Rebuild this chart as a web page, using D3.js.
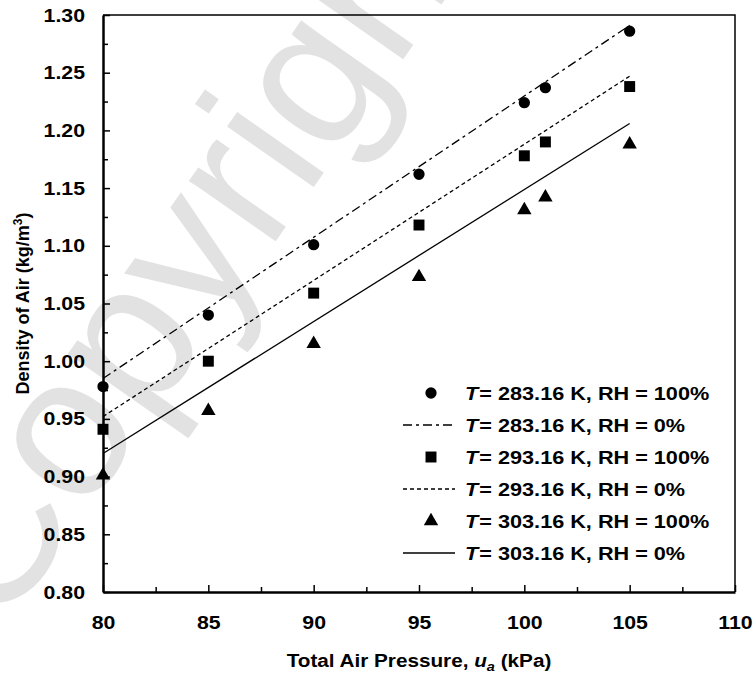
<!DOCTYPE html>
<html>
<head>
<meta charset="utf-8">
<script src="https://cdn.jsdelivr.net/npm/d3@7"></script>
<style>
  body { margin: 0; background: #fff; }
  svg { display: block; font-family: "Liberation Sans", Arial, Helvetica, sans-serif; }
</style>
</head>
<body>
<svg width="755" height="674"></svg>
<script>
// measured data (kPa -> kg/m3)
const pressures = [80, 85, 90, 95, 100, 101, 105];
const rho283wet = [0.978, 1.040, 1.101, 1.162, 1.224, 1.237, 1.286];
const rho293wet = [0.941, 1.000, 1.059, 1.118, 1.178, 1.190, 1.238];
const rho303wet = [0.901, 0.957, 1.015, 1.073, 1.131, 1.142, 1.188];

// dry air lines, end points
const linePressures = [80, 105];
const rho283dry = [0.985, 1.291];
const rho293dry = [0.952, 1.247];
const rho303dry = [0.920, 1.206];

const xTicks = [80, 85, 90, 95, 100, 105, 110];
const yTicks = [0.80, 0.85, 0.90, 0.95, 1.00, 1.05, 1.10, 1.15, 1.20, 1.25, 1.30];

const legendLabels = [
  ["283.16 K, RH = 100%", "circle"],
  ["283.16 K, RH = 0%", "dashdot"],
  ["293.16 K, RH = 100%", "square"],
  ["293.16 K, RH = 0%", "dotted"],
  ["303.16 K, RH = 100%", "triangle"],
  ["303.16 K, RH = 0%", "solid"]
];

const margin = {top: 15, right: 20, bottom: 82, left: 103};
const width = 755, height = 674;
const sx = 1.12; // the original lettering is a bit wide

const svg = d3.select("svg");

// watermark
svg.append("text")
  .attr("transform", "translate(0,635) rotate(-55)")
  .attr("font-size", 200)
  .attr("fill", "#e2e2e2")
  .text("Copyrighted Material");

const x = d3.scaleLinear([80, 110], [margin.left, width - margin.right]);
const y = d3.scaleLinear([0.80, 1.30], [height - margin.bottom, margin.top]);

// frame top/right
svg.append("path")
  .attr("fill", "none")
  .attr("stroke", "#000")
  .attr("stroke-width", 1.5)
  .attr("d", `M${x(80)},${y(1.3)}H${x(110)}V${y(0.8)}`);

// minor ticks
svg.append("g")
  .attr("transform", `translate(0,${y(0.8)})`)
  .call(d3.axisBottom(x).tickValues(d3.range(82.5, 110, 5)).tickSize(-5).tickFormat(""))
  .call(g => g.select(".domain").remove())
  .call(g => g.selectAll("line").attr("stroke-width", 1.5));
svg.append("g")
  .attr("transform", `translate(${x(80)},0)`)
  .call(d3.axisLeft(y).tickValues(d3.range(0.825, 1.3, 0.05)).tickSize(-5).tickFormat(""))
  .call(g => g.select(".domain").remove())
  .call(g => g.selectAll("line").attr("stroke-width", 1.5));

function styleLabels(g) {
  g.selectAll("text")
    .attr("font-size", 19)
    .attr("font-weight", "bold")
    .attr("font-family", null)
    .attr("fill", "#000")
    .attr("x", function() { return (+d3.select(this).attr("x") || 0) / sx; })
    .attr("transform", `scale(${sx},1)`);
}

// major axes
svg.append("g")
  .attr("transform", `translate(0,${y(0.8)})`)
  .call(d3.axisBottom(x).tickValues(xTicks).tickSize(-7).tickSizeOuter(0).tickPadding(24).tickFormat(d3.format("d")))
  .call(g => g.select(".domain").attr("stroke-width", 2.5))
  .call(g => g.selectAll("line").attr("stroke-width", 1.5))
  .call(styleLabels);
svg.append("g")
  .attr("transform", `translate(${x(80)},0)`)
  .call(d3.axisLeft(y).tickValues(yTicks).tickSize(-7).tickSizeOuter(0).tickPadding(18).tickFormat(d3.format(".2f")))
  .call(g => g.select(".domain").attr("stroke-width", 2.5))
  .call(g => g.selectAll("line").attr("stroke-width", 1.5))
  .call(styleLabels);

// axis titles
const xt = svg.append("text")
  .attr("transform", `translate(${(x(80) + x(110)) / 2},667) scale(${sx},1)`)
  .attr("text-anchor", "middle")
  .attr("font-size", 18.5)
  .attr("font-weight", "bold");
xt.append("tspan").text("Total Air Pressure, ");
xt.append("tspan").attr("font-style", "italic").text("u");
xt.append("tspan").attr("font-style", "italic").attr("font-size", 13).attr("dy", 4).text("a");
xt.append("tspan").attr("dy", -4).text(" (kPa)");

const yt = svg.append("text")
  .attr("transform", `translate(29,${(y(0.8) + y(1.3)) / 2}) rotate(-90)`)
  .attr("text-anchor", "middle")
  .attr("font-size", 18)
  .attr("font-weight", "bold");
yt.append("tspan").text("Density of Air (kg/m");
yt.append("tspan").attr("font-size", 12).attr("dy", -7).text("3");
yt.append("tspan").attr("dy", 7).text(")");

// dry lines
const dashes = {dashdot: "9,4,3,4", dotted: "4,3", solid: null};
const lineGen = d3.line().x(d => x(d[0])).y(d => y(d[1]));
[[rho283dry, "dashdot"], [rho293dry, "dotted"], [rho303dry, "solid"]].forEach(([vals, style]) => {
  svg.append("path")
    .attr("fill", "none")
    .attr("stroke", "#000")
    .attr("stroke-width", 1.3)
    .attr("stroke-dasharray", dashes[style])
    .attr("d", lineGen(linePressures.map((p, i) => [p, vals[i]])));
});

// markers
const sym = {
  circle: d3.symbol(d3.symbolCircle, 100),
  square: d3.symbol(d3.symbolSquare, 120),
  triangle: d3.symbol(d3.symbolTriangle, 90)
};
[[rho283wet, "circle"], [rho293wet, "square"], [rho303wet, "triangle"]].forEach(([vals, shape]) => {
  svg.append("g")
    .selectAll("path")
    .data(pressures.map((p, i) => [p, vals[i]]))
    .join("path")
    .attr("transform", d => `translate(${x(d[0])},${y(d[1])})`)
    .attr("d", sym[shape]())
    .attr("fill", "#000");
});

// legend
const legend = svg.append("g")
  .selectAll("g")
  .data(legendLabels)
  .join("g")
  .attr("transform", (d, i) => `translate(465,${393 + i * 32})`);

legend.each(function([label, kind]) {
  const g = d3.select(this);
  if (sym[kind]) {
    g.append("path")
      .attr("transform", "translate(-34,0)")
      .attr("d", sym[kind]())
      .attr("fill", "#000");
  } else {
    g.append("line")
      .attr("x1", -62).attr("x2", -10)
      .attr("stroke", "#000")
      .attr("stroke-width", 1.3)
      .attr("stroke-dasharray", dashes[kind]);
  }
  const t = g.append("text")
    .attr("transform", "scale(1.14,1)")
    .attr("dy", "0.35em")
    .attr("font-size", 19)
    .attr("font-weight", "bold");
  t.append("tspan").attr("font-style", "italic").text("T");
  t.append("tspan").attr("dx", 1).text("= " + label);
});
</script>
</body>
</html>
